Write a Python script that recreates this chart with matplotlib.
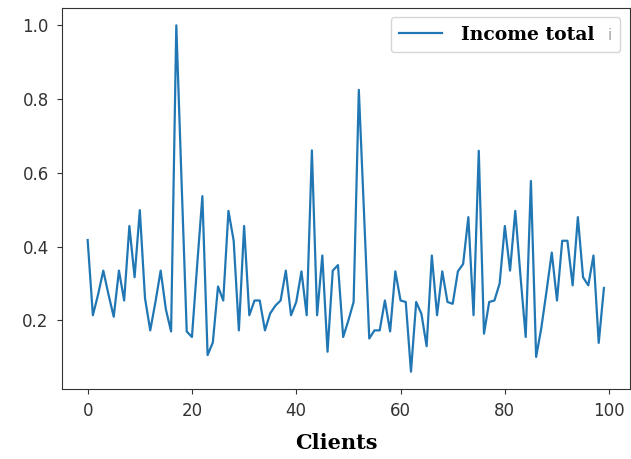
import matplotlib
matplotlib.use("Agg")
import matplotlib.pyplot as plt

# income of the first 100 clients (normalised)
clients = list(range(100))
income_total = [
    0.418, 0.214, 0.27, 0.335, 0.27, 0.21, 0.335, 0.254, 0.456, 0.317,
    0.499, 0.26, 0.173, 0.25, 0.335, 0.23, 0.17, 1.0, 0.58, 0.17,
    0.155, 0.35, 0.537, 0.106, 0.14, 0.292, 0.254, 0.497, 0.416, 0.173,
    0.456, 0.214, 0.254, 0.254, 0.173, 0.219, 0.24, 0.254, 0.335, 0.214,
    0.25, 0.333, 0.214, 0.661, 0.214, 0.376, 0.115, 0.335, 0.35, 0.155,
    0.2, 0.25, 0.825, 0.49, 0.151, 0.173, 0.173, 0.254, 0.17, 0.333,
    0.254, 0.25, 0.061, 0.25, 0.218, 0.13, 0.376, 0.214, 0.333, 0.25,
    0.245, 0.333, 0.353, 0.48, 0.214, 0.66, 0.164, 0.25, 0.254, 0.3,
    0.456, 0.335, 0.497, 0.32, 0.155, 0.578, 0.101, 0.18, 0.28, 0.384,
    0.254, 0.416, 0.416, 0.295, 0.48, 0.317, 0.295, 0.376, 0.139, 0.288,
]

fig = plt.figure(figsize=(6.31, 4.59), dpi=100)
ax = fig.add_axes([0.098, 0.1525, 0.9, 0.83])

ax.plot(clients, income_total, color="#2077b4", linewidth=1.6, label="Income total")
# invisible entry, only carries the faint "i" shown at the end of the legend
ax.plot([], [], color="none", label="i")

for s in ax.spines.values():
    s.set_color("0.2")
ax.tick_params(colors="0.2", labelsize=12, pad=6)
ax.set_xticks([0, 20, 40, 60, 80, 100])
ax.set_yticks([0.2, 0.4, 0.6, 0.8, 1.0])

ax.set_xlabel("Clients", family="DejaVu Serif", weight="bold", fontsize=15)
ax.xaxis.set_label_coords(0.484, -0.115)

leg = ax.legend(loc="upper right", ncol=2, prop={"family": "DejaVu Serif", "weight": "bold", "size": 13.5},
                handlelength=2.3, handletextpad=1.0, columnspacing=-2.6,
                borderpad=0.45, fancybox=True)
leg.get_frame().set_edgecolor("0.8")
t_i = leg.get_texts()[1]
t_i.set_color("0.65")
t_i.set_fontfamily("DejaVu Sans")
t_i.set_fontweight("normal")
t_i.set_fontsize(11)

fig.savefig("out.png", dpi=100)
